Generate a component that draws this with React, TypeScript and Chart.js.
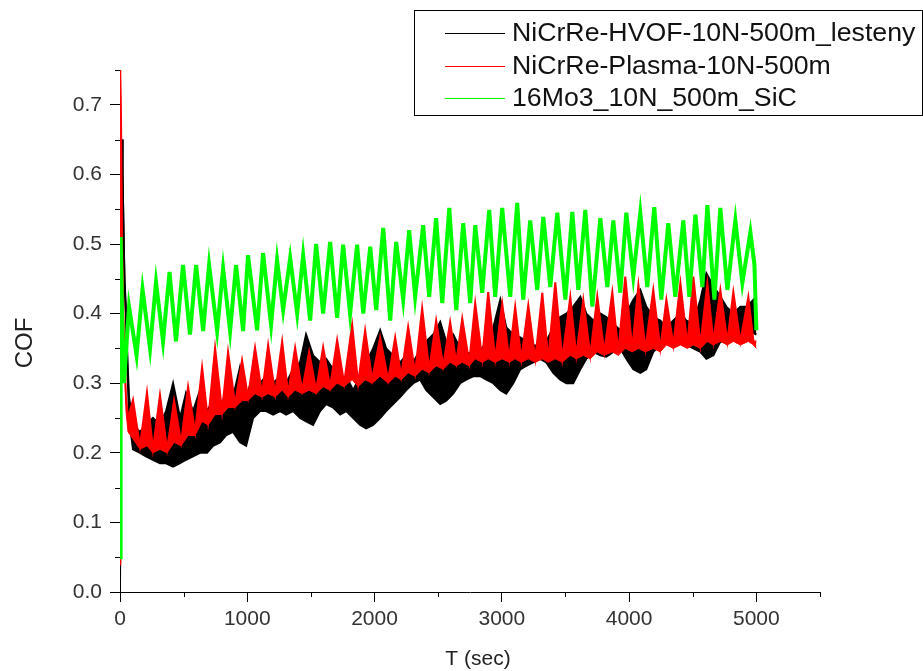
import React, { useEffect, useRef } from "react";
import { Chart, registerables } from "chart.js";
Chart.register(...registerables);

const FONT = "'Liberation Sans', Arial, Helvetica, sans-serif";

const SERIES_NAMES = ["NiCrRe-HVOF-10N-500m_lesteny", "NiCrRe-Plasma-10N-500m", "16Mo3_10N_500m_SiC"];
const SERIES_COLORS = ["#000000", "#ff0000", "#00ff00"];
const X_TITLE = "T (sec)";
const Y_TITLE = "COF";
const X_TICKS = [0, 1000, 2000, 3000, 4000, 5000];
const X_MINOR = [500, 1500, 2500, 3500, 4500, 5500];
const Y_TICKS = [0, 0.1, 0.2, 0.3, 0.4, 0.5, 0.6, 0.7];
const Y_MINOR = [0.05, 0.15, 0.25, 0.35, 0.45, 0.55, 0.65, 0.75];

// 16Mo3 (green): time (s) and COF at the turning points
const GREEN_T = [
  0, 5, 20, 31, 71, 130, 177, 236, 283, 338,
  389, 440, 495, 550, 598, 653, 700, 763, 810, 865,
  912, 967, 1006, 1077, 1124, 1187, 1234, 1282, 1337, 1392,
  1439, 1494, 1541, 1596, 1651, 1706, 1753, 1808, 1863, 1911,
  1966, 2013, 2068, 2123, 2170, 2225, 2272, 2319, 2382, 2429,
  2484, 2532, 2587, 2642, 2697, 2752, 2791, 2846, 2901, 2948,
  3003, 3066, 3121, 3168, 3223, 3278, 3326, 3381, 3436, 3499,
  3554, 3601, 3656, 3711, 3774, 3829, 3876, 3931, 3978, 4033,
  4088, 4143, 4198, 4253, 4308, 4363, 4426, 4473, 4521, 4576,
  4615, 4670, 4717, 4772, 4835, 4890, 4953, 4985, 5000,
];
const GREEN_V = [
  0.05, 0.51, 0.37, 0.30, 0.41, 0.34, 0.435, 0.35, 0.445, 0.36,
  0.46, 0.36, 0.47, 0.37, 0.47, 0.375, 0.47, 0.375, 0.465, 0.375,
  0.47, 0.375, 0.484, 0.376, 0.487, 0.384, 0.477, 0.405, 0.48, 0.40,
  0.484, 0.39, 0.50, 0.40, 0.503, 0.394, 0.499, 0.40, 0.499, 0.40,
  0.496, 0.405, 0.523, 0.39, 0.503, 0.42, 0.52, 0.424, 0.527, 0.424,
  0.537, 0.415, 0.552, 0.405, 0.53, 0.415, 0.527, 0.43, 0.549, 0.424,
  0.552, 0.424, 0.559, 0.42, 0.534, 0.434, 0.539, 0.438, 0.545, 0.42,
  0.546, 0.434, 0.549, 0.41, 0.537, 0.438, 0.534, 0.43, 0.545, 0.453,
  0.545, 0.438, 0.553, 0.42, 0.53, 0.424, 0.534, 0.424, 0.542, 0.438,
  0.556, 0.42, 0.552, 0.434, 0.534, 0.444, 0.517, 0.47, 0.376,
];

// NiCrRe-Plasma (red): upper and lower edge of the band
const RED_T = [
  0, 2, 8, 16, 31, 47, 63, 102, 157, 212,
  259, 314, 370, 425, 480, 535, 590, 645, 692, 747,
  802, 849, 904, 959, 1006, 1061, 1116, 1164, 1219, 1274,
  1321, 1376, 1431, 1486, 1541, 1596, 1651, 1706, 1761, 1824,
  1871, 1926, 1981, 2044, 2107, 2162, 2209, 2264, 2319, 2374,
  2429, 2484, 2539, 2594, 2642, 2689, 2744, 2791, 2846, 2893,
  2948, 3003, 3058, 3105, 3153, 3208, 3263, 3318, 3365, 3420,
  3475, 3538, 3585, 3640, 3695, 3750, 3805, 3868, 3915, 3970,
  4025, 4073, 4128, 4190, 4245, 4293, 4348, 4403, 4458, 4505,
  4560, 4615, 4662, 4717, 4772, 4819, 4874, 4937, 4977, 5000,
];
const RED_HI = [
  0.04, 0.75, 0.68, 0.50, 0.36, 0.28, 0.25, 0.276, 0.21, 0.287,
  0.205, 0.283, 0.205, 0.275, 0.215, 0.295, 0.23, 0.323, 0.245, 0.351,
  0.26, 0.345, 0.27, 0.333, 0.28, 0.351, 0.285, 0.355, 0.285, 0.36,
  0.285, 0.351, 0.29, 0.345, 0.29, 0.352, 0.295, 0.362, 0.30, 0.384,
  0.30, 0.376, 0.305, 0.366, 0.305, 0.366, 0.31, 0.381, 0.315, 0.408,
  0.32, 0.39, 0.325, 0.388, 0.33, 0.393, 0.33, 0.415, 0.335, 0.431,
  0.335, 0.415, 0.335, 0.41, 0.335, 0.412, 0.335, 0.43, 0.335, 0.445,
  0.335, 0.424, 0.34, 0.42, 0.34, 0.425, 0.345, 0.431, 0.345, 0.453,
  0.35, 0.441, 0.35, 0.434, 0.35, 0.42, 0.355, 0.444, 0.355, 0.453,
  0.355, 0.444, 0.36, 0.434, 0.36, 0.431, 0.36, 0.424, 0.36, 0.36,
];
const RED_LO = [
  0.04, 0.75, 0.68, 0.50, 0.36, 0.26, 0.23, 0.22, 0.205, 0.21,
  0.20, 0.205, 0.2, 0.215, 0.21, 0.225, 0.225, 0.245, 0.24, 0.255,
  0.255, 0.265, 0.265, 0.275, 0.275, 0.285, 0.28, 0.285, 0.28, 0.29,
  0.28, 0.29, 0.285, 0.29, 0.285, 0.295, 0.29, 0.30, 0.295, 0.305,
  0.295, 0.305, 0.30, 0.31, 0.30, 0.31, 0.305, 0.315, 0.31, 0.32,
  0.315, 0.325, 0.32, 0.33, 0.325, 0.33, 0.325, 0.335, 0.33, 0.335,
  0.33, 0.335, 0.33, 0.335, 0.33, 0.335, 0.33, 0.335, 0.33, 0.335,
  0.33, 0.34, 0.335, 0.34, 0.335, 0.345, 0.34, 0.345, 0.34, 0.35,
  0.345, 0.35, 0.345, 0.35, 0.345, 0.355, 0.35, 0.355, 0.35, 0.355,
  0.35, 0.36, 0.355, 0.36, 0.355, 0.36, 0.355, 0.36, 0.355, 0.35,
];

// NiCrRe-HVOF (black): upper and lower edge of the band
const BLACK_T = [
  0, 16, 20, 28, 35, 47, 59, 71, 102, 157,
  204, 259, 314, 362, 417, 472, 519, 574, 629, 684,
  731, 786, 833, 888, 943, 991, 1046, 1101, 1148, 1203,
  1258, 1305, 1360, 1415, 1462, 1517, 1572, 1620, 1675, 1730,
  1777, 1832, 1887, 1934, 1989, 2044, 2091, 2146, 2201, 2249,
  2304, 2359, 2406, 2461, 2516, 2563, 2618, 2673, 2720, 2775,
  2830, 2878, 2933, 2988, 3035, 3090, 3145, 3192, 3247, 3302,
  3349, 3404, 3459, 3507, 3561, 3617, 3664, 3719, 3774, 3821,
  3876, 3931, 3978, 4033, 4088, 4135, 4190, 4245, 4293, 4348,
  4403, 4450, 4505, 4560, 4607, 4662, 4717, 4764, 4819, 4874,
  4922, 4977, 5000,
];
const BLACK_HI = [
  0.01, 0.65, 0.60, 0.515, 0.45, 0.40, 0.33, 0.28, 0.24, 0.23,
  0.24, 0.25, 0.24, 0.26, 0.30, 0.25, 0.286, 0.26, 0.29, 0.26,
  0.275, 0.26, 0.29, 0.28, 0.323, 0.28, 0.31, 0.30, 0.31, 0.30,
  0.31, 0.30, 0.32, 0.33, 0.37, 0.34, 0.33, 0.335, 0.32, 0.30,
  0.31, 0.29, 0.31, 0.33, 0.35, 0.376, 0.35, 0.34, 0.33, 0.34,
  0.33, 0.348, 0.36, 0.37, 0.388, 0.36, 0.37, 0.35, 0.345, 0.34,
  0.345, 0.36, 0.38, 0.42, 0.38, 0.37, 0.366, 0.36, 0.355, 0.352,
  0.36, 0.38, 0.395, 0.40, 0.41, 0.424, 0.40, 0.39, 0.40, 0.395,
  0.385, 0.376, 0.40, 0.42, 0.434, 0.41, 0.395, 0.39, 0.38, 0.39,
  0.40, 0.39, 0.386, 0.42, 0.458, 0.44, 0.424, 0.41, 0.40, 0.41,
  0.41, 0.42, 0.40,
];
const BLACK_LO = [
  0.01, 0.65, 0.60, 0.515, 0.45, 0.40, 0.32, 0.25, 0.205, 0.20,
  0.195, 0.19, 0.185, 0.185, 0.18, 0.185, 0.19, 0.195, 0.2, 0.2,
  0.21, 0.215, 0.225, 0.23, 0.215, 0.21, 0.25, 0.26, 0.26, 0.255,
  0.26, 0.255, 0.26, 0.25, 0.245, 0.24, 0.26, 0.27, 0.265, 0.255,
  0.26, 0.25, 0.24, 0.235, 0.24, 0.25, 0.26, 0.27, 0.28, 0.29,
  0.30, 0.305, 0.29, 0.28, 0.27, 0.275, 0.285, 0.30, 0.305, 0.31,
  0.31, 0.305, 0.30, 0.29, 0.285, 0.30, 0.32, 0.325, 0.33, 0.335,
  0.33, 0.315, 0.305, 0.30, 0.30, 0.32, 0.335, 0.345, 0.34, 0.338,
  0.345, 0.35, 0.335, 0.32, 0.315, 0.32, 0.345, 0.355, 0.36, 0.365,
  0.36, 0.355, 0.35, 0.345, 0.335, 0.34, 0.36, 0.36, 0.365, 0.366,
  0.37, 0.372, 0.37,
];

const pts = (ts: number[], vs: number[]) => ts.map((t, i) => ({ x: t, y: vs[i] }));

const decorPlugin = {
  id: "decor",
  afterDraw(chart: any) {
    const ctx = chart.ctx as CanvasRenderingContext2D;
    const xs = chart.scales.x;
    const ys = chart.scales.y;
    const a = chart.chartArea;
    ctx.save();
    ctx.strokeStyle = "#000";
    ctx.lineWidth = 1;
    ctx.beginPath();
    X_MINOR.forEach((v) => {
      const px = Math.round(xs.getPixelForValue(v)) + 0.5;
      ctx.moveTo(px, a.bottom);
      ctx.lineTo(px, a.bottom + 5);
    });
    Y_MINOR.forEach((v) => {
      const py = Math.round(ys.getPixelForValue(v)) + 0.5;
      ctx.moveTo(a.left - 5, py);
      ctx.lineTo(a.left, py);
    });
    ctx.stroke();

    ctx.fillStyle = "#222";
    ctx.font = `21px ${FONT}`;
    ctx.textAlign = "center";
    ctx.textBaseline = "middle";
    ctx.fillText(X_TITLE, 478, 659);
    ctx.save();
    ctx.translate(25, (a.top + a.bottom) / 2 + 12);
    ctx.rotate(-Math.PI / 2);
    ctx.font = `24px ${FONT}`;
    ctx.fillText(Y_TITLE, 0, 0);
    ctx.restore();

    // legend box
    ctx.fillStyle = "#fff";
    ctx.fillRect(415, 11, 507, 104);
    ctx.strokeStyle = "#000";
    ctx.lineWidth = 1;
    ctx.strokeRect(414.5, 10.5, 508, 105);
    ctx.font = `26.7px ${FONT}`;
    ctx.textAlign = "left";
    ctx.textBaseline = "middle";
    SERIES_NAMES.forEach((name, i) => {
      const y = 33 + i * 32.5;
      ctx.strokeStyle = SERIES_COLORS[i];
      ctx.beginPath();
      ctx.moveTo(445, Math.round(y) + 0.5);
      ctx.lineTo(505, Math.round(y) + 0.5);
      ctx.stroke();
      ctx.fillStyle = "#111";
      ctx.fillText(name, 512, y + 1);
    });
    ctx.restore();
  },
};

export default function App() {
  const ref = useRef<HTMLCanvasElement>(null);
  useEffect(() => {
    document.body.style.margin = "0";
    const axisCommon = {
      grid: { display: true, drawOnChartArea: false, drawTicks: true, tickLength: 10, color: "#000", lineWidth: 1 },
      border: { display: true, color: "#000", width: 1 },
    };
    const chart = new Chart(ref.current as HTMLCanvasElement, {
      type: "line",
      data: {
        datasets: [
          {
            label: SERIES_NAMES[2],
            data: pts(GREEN_T, GREEN_V),
            borderColor: SERIES_COLORS[2],
            borderWidth: 4,
            pointRadius: 0,
            fill: false,
          },
          {
            label: SERIES_NAMES[1],
            data: pts(RED_T, RED_HI),
            borderColor: SERIES_COLORS[1],
            backgroundColor: SERIES_COLORS[1],
            borderWidth: 2,
            pointRadius: 0,
            fill: "+1",
          },
          {
            label: SERIES_NAMES[1] + " low",
            data: pts(RED_T, RED_LO),
            borderColor: SERIES_COLORS[1],
            borderWidth: 1,
            pointRadius: 0,
            fill: false,
          },
          {
            label: SERIES_NAMES[0],
            data: pts(BLACK_T, BLACK_HI),
            borderColor: SERIES_COLORS[0],
            backgroundColor: SERIES_COLORS[0],
            borderWidth: 2,
            pointRadius: 0,
            fill: "+1",
          },
          {
            label: SERIES_NAMES[0] + " low",
            data: pts(BLACK_T, BLACK_LO),
            borderColor: SERIES_COLORS[0],
            borderWidth: 2,
            pointRadius: 0,
            fill: false,
          },
        ],
      },
      options: {
        responsive: false,
        animation: false,
        layout: { padding: { top: 70, right: 103, left: 0, bottom: 0 } },
        plugins: { legend: { display: false }, tooltip: { enabled: false } },
        scales: {
          x: {
            type: "linear",
            min: 0,
            max: 5500,
            afterBuildTicks: (s: any) => {
              s.ticks = X_TICKS.map((v) => ({ value: v }));
            },
            afterFit: (s: any) => {
              s.height = 79;
            },
            ticks: {
              font: { size: 21, family: FONT },
              color: "#333",
              padding: 5,
              maxRotation: 0,
              autoSkip: false,
              callback: (v: any) => String(v),
            },
            ...axisCommon,
          },
          y: {
            type: "linear",
            min: 0,
            max: 0.75,
            afterBuildTicks: (s: any) => {
              s.ticks = Y_TICKS.map((v) => ({ value: v }));
            },
            afterFit: (s: any) => {
              s.width = 120;
            },
            ticks: {
              font: { size: 21, family: FONT },
              color: "#333",
              padding: 8,
              autoSkip: false,
              callback: (v: any) => Number(v).toFixed(1),
            },
            ...axisCommon,
          },
        },
      } as any,
      plugins: [decorPlugin],
    });
    return () => chart.destroy();
  }, []);
  return <canvas ref={ref} width={923} height={671} style={{ display: "block" }} />;
}
